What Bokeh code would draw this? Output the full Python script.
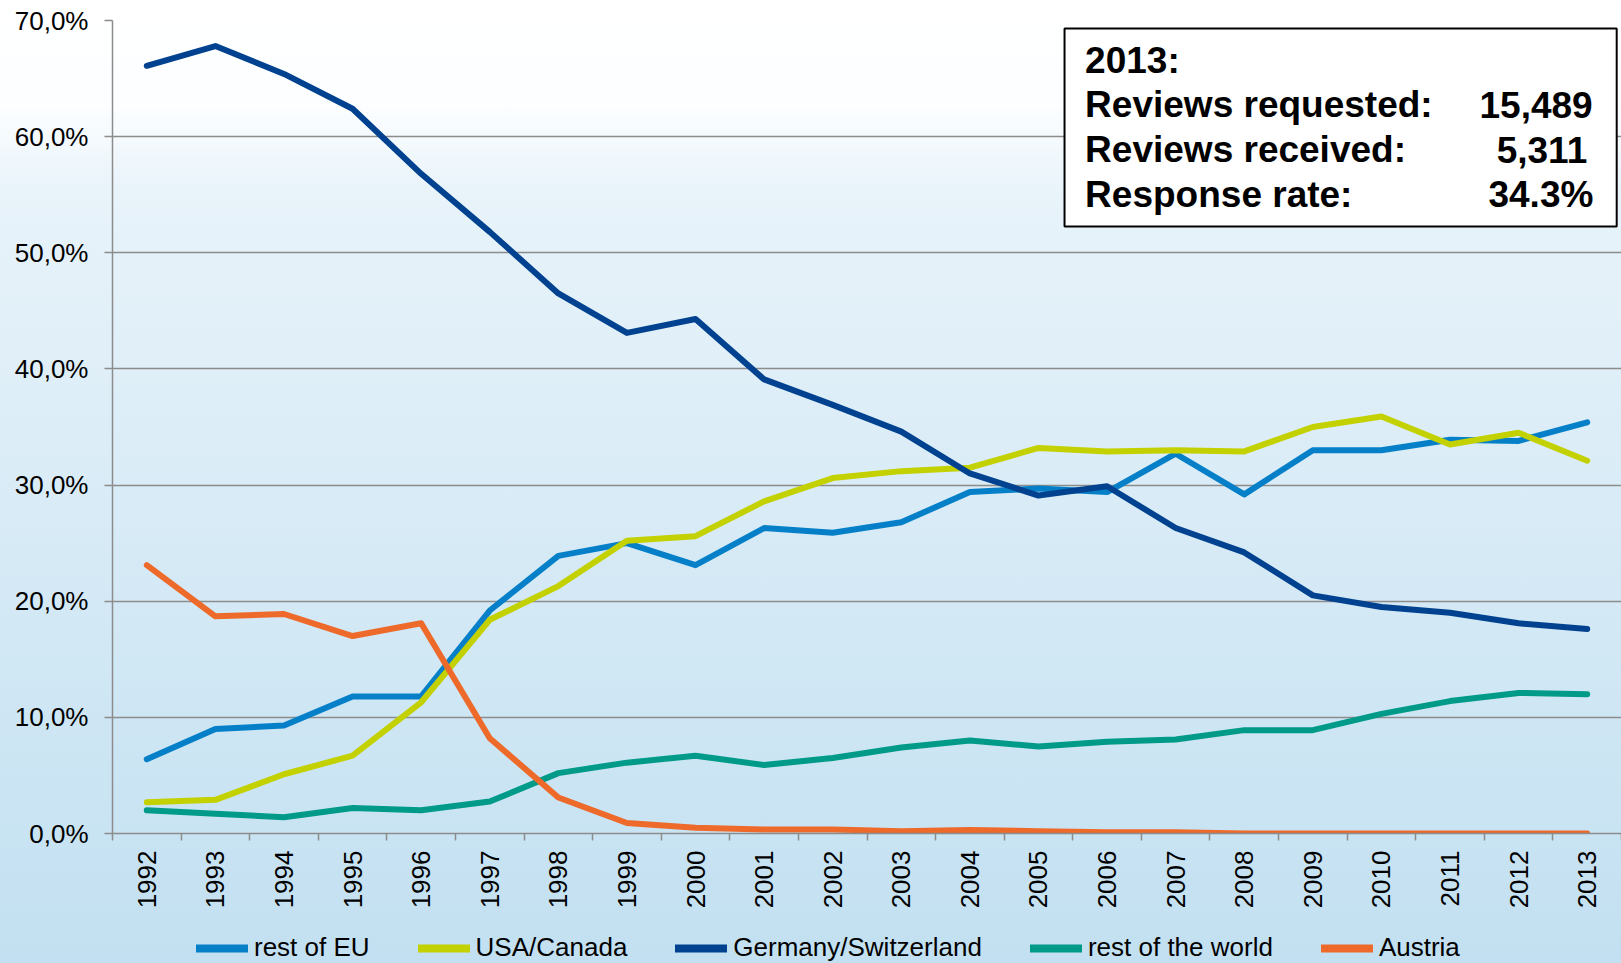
import math
from bokeh.plotting import figure
from bokeh.layouts import column
from bokeh.models import Range1d, FixedTicker, BoxAnnotation, Label, Legend, LegendItem
from bokeh.embed import file_html
from bokeh.resources import INLINE

years = list(range(1992, 2014))
rest_of_eu = [6.4, 9.0, 9.3, 11.8, 11.8, 19.2, 23.9, 25.0, 23.1, 26.3, 25.9,
              26.8, 29.4, 29.7, 29.4, 32.7, 29.2, 33.0, 33.0, 33.9, 33.8, 35.4]
usa_canada = [2.7, 2.9, 5.1, 6.7, 11.3, 18.4, 21.3, 25.2, 25.6, 28.6, 30.6,
              31.2, 31.5, 33.2, 32.9, 33.0, 32.9, 35.0, 35.9, 33.5, 34.5, 32.1]
germany_switzerland = [66.1, 67.8, 65.4, 62.4, 56.8, 51.8, 46.5, 43.1, 44.3, 39.1, 36.9,
                       34.6, 31.0, 29.1, 29.9, 26.3, 24.2, 20.5, 19.5, 19.0, 18.1, 17.6]
rest_of_world = [2.0, 1.7, 1.4, 2.2, 2.0, 2.75, 5.2, 6.1, 6.7, 5.9, 6.5,
                 7.4, 8.0, 7.5, 7.9, 8.1, 8.9, 8.9, 10.3, 11.4, 12.1, 12.0]
austria = [23.1, 18.7, 18.9, 17.0, 18.1, 8.2, 3.1, 0.9, 0.5, 0.35, 0.35,
           0.2, 0.3, 0.2, 0.1, 0.1, 0.0, 0.0, 0.0, 0.0, 0.0, 0.0]

series_names = ["rest of EU", "USA/Canada", "Germany/Switzerland", "rest of the world", "Austria"]
series_values = [rest_of_eu, usa_canada, germany_switzerland, rest_of_world, austria]
series_colors = ["#0580c8", "#c3d100", "#00428f", "#009a88", "#ee6a2a"]

y_ticks = [0, 10, 20, 30, 40, 50, 60, 70]
y_tick_labels = ["0,0%", "10,0%", "20,0%", "30,0%", "40,0%", "50,0%", "60,0%", "70,0%"]

box_labels = ["2013:", "Reviews requested:", "Reviews received:", "Response rate:"]
box_values = ["", "15,489", "5,311", "34.3%"]

FONT = "Liberation Sans"
GRID = "#8c8c8c"

p = figure(width=1621, height=933, output_backend="svg", toolbar_location=None,
           x_range=Range1d(1991.5, 2013.5), y_range=Range1d(0, 70),
           min_border_left=112, min_border_right=0, min_border_top=20, min_border_bottom=100)
p.background_fill_color = None
p.border_fill_color = None
p.outline_line_color = None

# x axis
xt = FixedTicker(ticks=years, minor_ticks=[y - 0.5 for y in years] + [years[-1] + 0.5])
p.xaxis.ticker = xt
p.xaxis.major_label_overrides = {y: str(y) for y in years}
p.xaxis.major_label_orientation = math.pi / 2
p.xaxis.major_tick_line_color = None
p.xaxis.major_tick_out = 7
p.xaxis.major_tick_in = 0
p.xaxis.minor_tick_line_color = GRID
p.xaxis.minor_tick_line_width = 1.5
p.xaxis.minor_tick_out = 7
p.xaxis.minor_tick_in = 0
p.xaxis.major_label_standoff = 10
p.xaxis.axis_line_color = GRID
p.xaxis.axis_line_width = 1.5
p.xaxis.major_label_text_font = FONT
p.xaxis.major_label_text_font_size = "26px"
p.xaxis.major_label_text_color = "#000000"

# y axis
p.yaxis.ticker = FixedTicker(ticks=y_ticks)
p.yaxis.major_label_overrides = {t: l for t, l in zip(y_ticks, y_tick_labels)}
p.yaxis.major_tick_out = 8
p.yaxis.major_tick_in = 0
p.yaxis.major_tick_line_color = GRID
p.yaxis.major_tick_line_width = 1.5
p.yaxis.minor_tick_line_color = None
p.yaxis.major_label_standoff = 16
p.yaxis.axis_line_color = GRID
p.yaxis.axis_line_width = 1.5
p.yaxis.major_label_text_font = FONT
p.yaxis.major_label_text_font_size = "26px"
p.yaxis.major_label_text_color = "#000000"

p.xgrid.grid_line_color = None
p.ygrid.ticker = FixedTicker(ticks=y_ticks)
p.ygrid.grid_line_color = GRID
p.ygrid.grid_line_width = 1.5

for name, vals, col in zip(series_names, series_values, series_colors):
    p.line(years, vals, line_color=col, line_width=6, line_cap="round", line_join="round")

# info box
box = BoxAnnotation(left=2005.38, right=2013.43, bottom=52.26, top=69.31,
                    fill_color="white", fill_alpha=1.0, line_color="black",
                    line_alpha=1.0, line_width=2)
p.add_layout(box)

row_y = [66.56, 62.73, 58.85, 55.02]
val_x = [2013.08, 2013.08, 2013.0, 2013.09]
for lab, val, yy, vx in zip(box_labels, box_values, row_y, val_x):
    p.add_layout(Label(x=2005.68, y=yy, text=lab, text_font=FONT, text_font_style="bold",
                       text_font_size="37px", text_baseline="middle", text_align="left",
                       text_color="#000000"))
    if val:
        p.add_layout(Label(x=vx, y=yy, text=val, text_font=FONT, text_font_style="bold",
                           text_font_size="37px", text_baseline="middle", text_align="right",
                           text_color="#000000"))

# legend strip below the chart (its renderers lie outside its own view range)
lg = figure(width=1621, height=30, output_backend="svg", toolbar_location=None,
            x_axis_type=None, y_axis_type=None, x_range=Range1d(0, 1), y_range=Range1d(0, 1),
            min_border=0, min_border_left=0, min_border_right=0, min_border_top=0, min_border_bottom=0)
lg.background_fill_color = None
lg.border_fill_color = None
lg.outline_line_color = None
lg.grid.visible = False

items = []
for name, vals, col in zip(series_names, series_values, series_colors):
    r = lg.line(years, vals, line_color=col, line_width=8, line_cap="round")
    items.append(LegendItem(label=name, renderers=[r]))

legend = Legend(items=items, orientation="horizontal", location=(84, 0),
                glyph_width=52, glyph_height=30, label_height=30, label_standoff=6,
                spacing=48, padding=0, margin=0,
                background_fill_alpha=0, border_line_color=None,
                label_text_font=FONT, label_text_font_size="26px", label_text_color="#000000")
lg.add_layout(legend)

layout = column(p, lg, spacing=0)
layout.styles = {"background": "linear-gradient(to bottom, #ffffff 0%, #fcfeff 11%, #e8f3fa 20%, #c2e0f1 100%)"}

open("out.html", "w").write(file_html(layout, INLINE))
